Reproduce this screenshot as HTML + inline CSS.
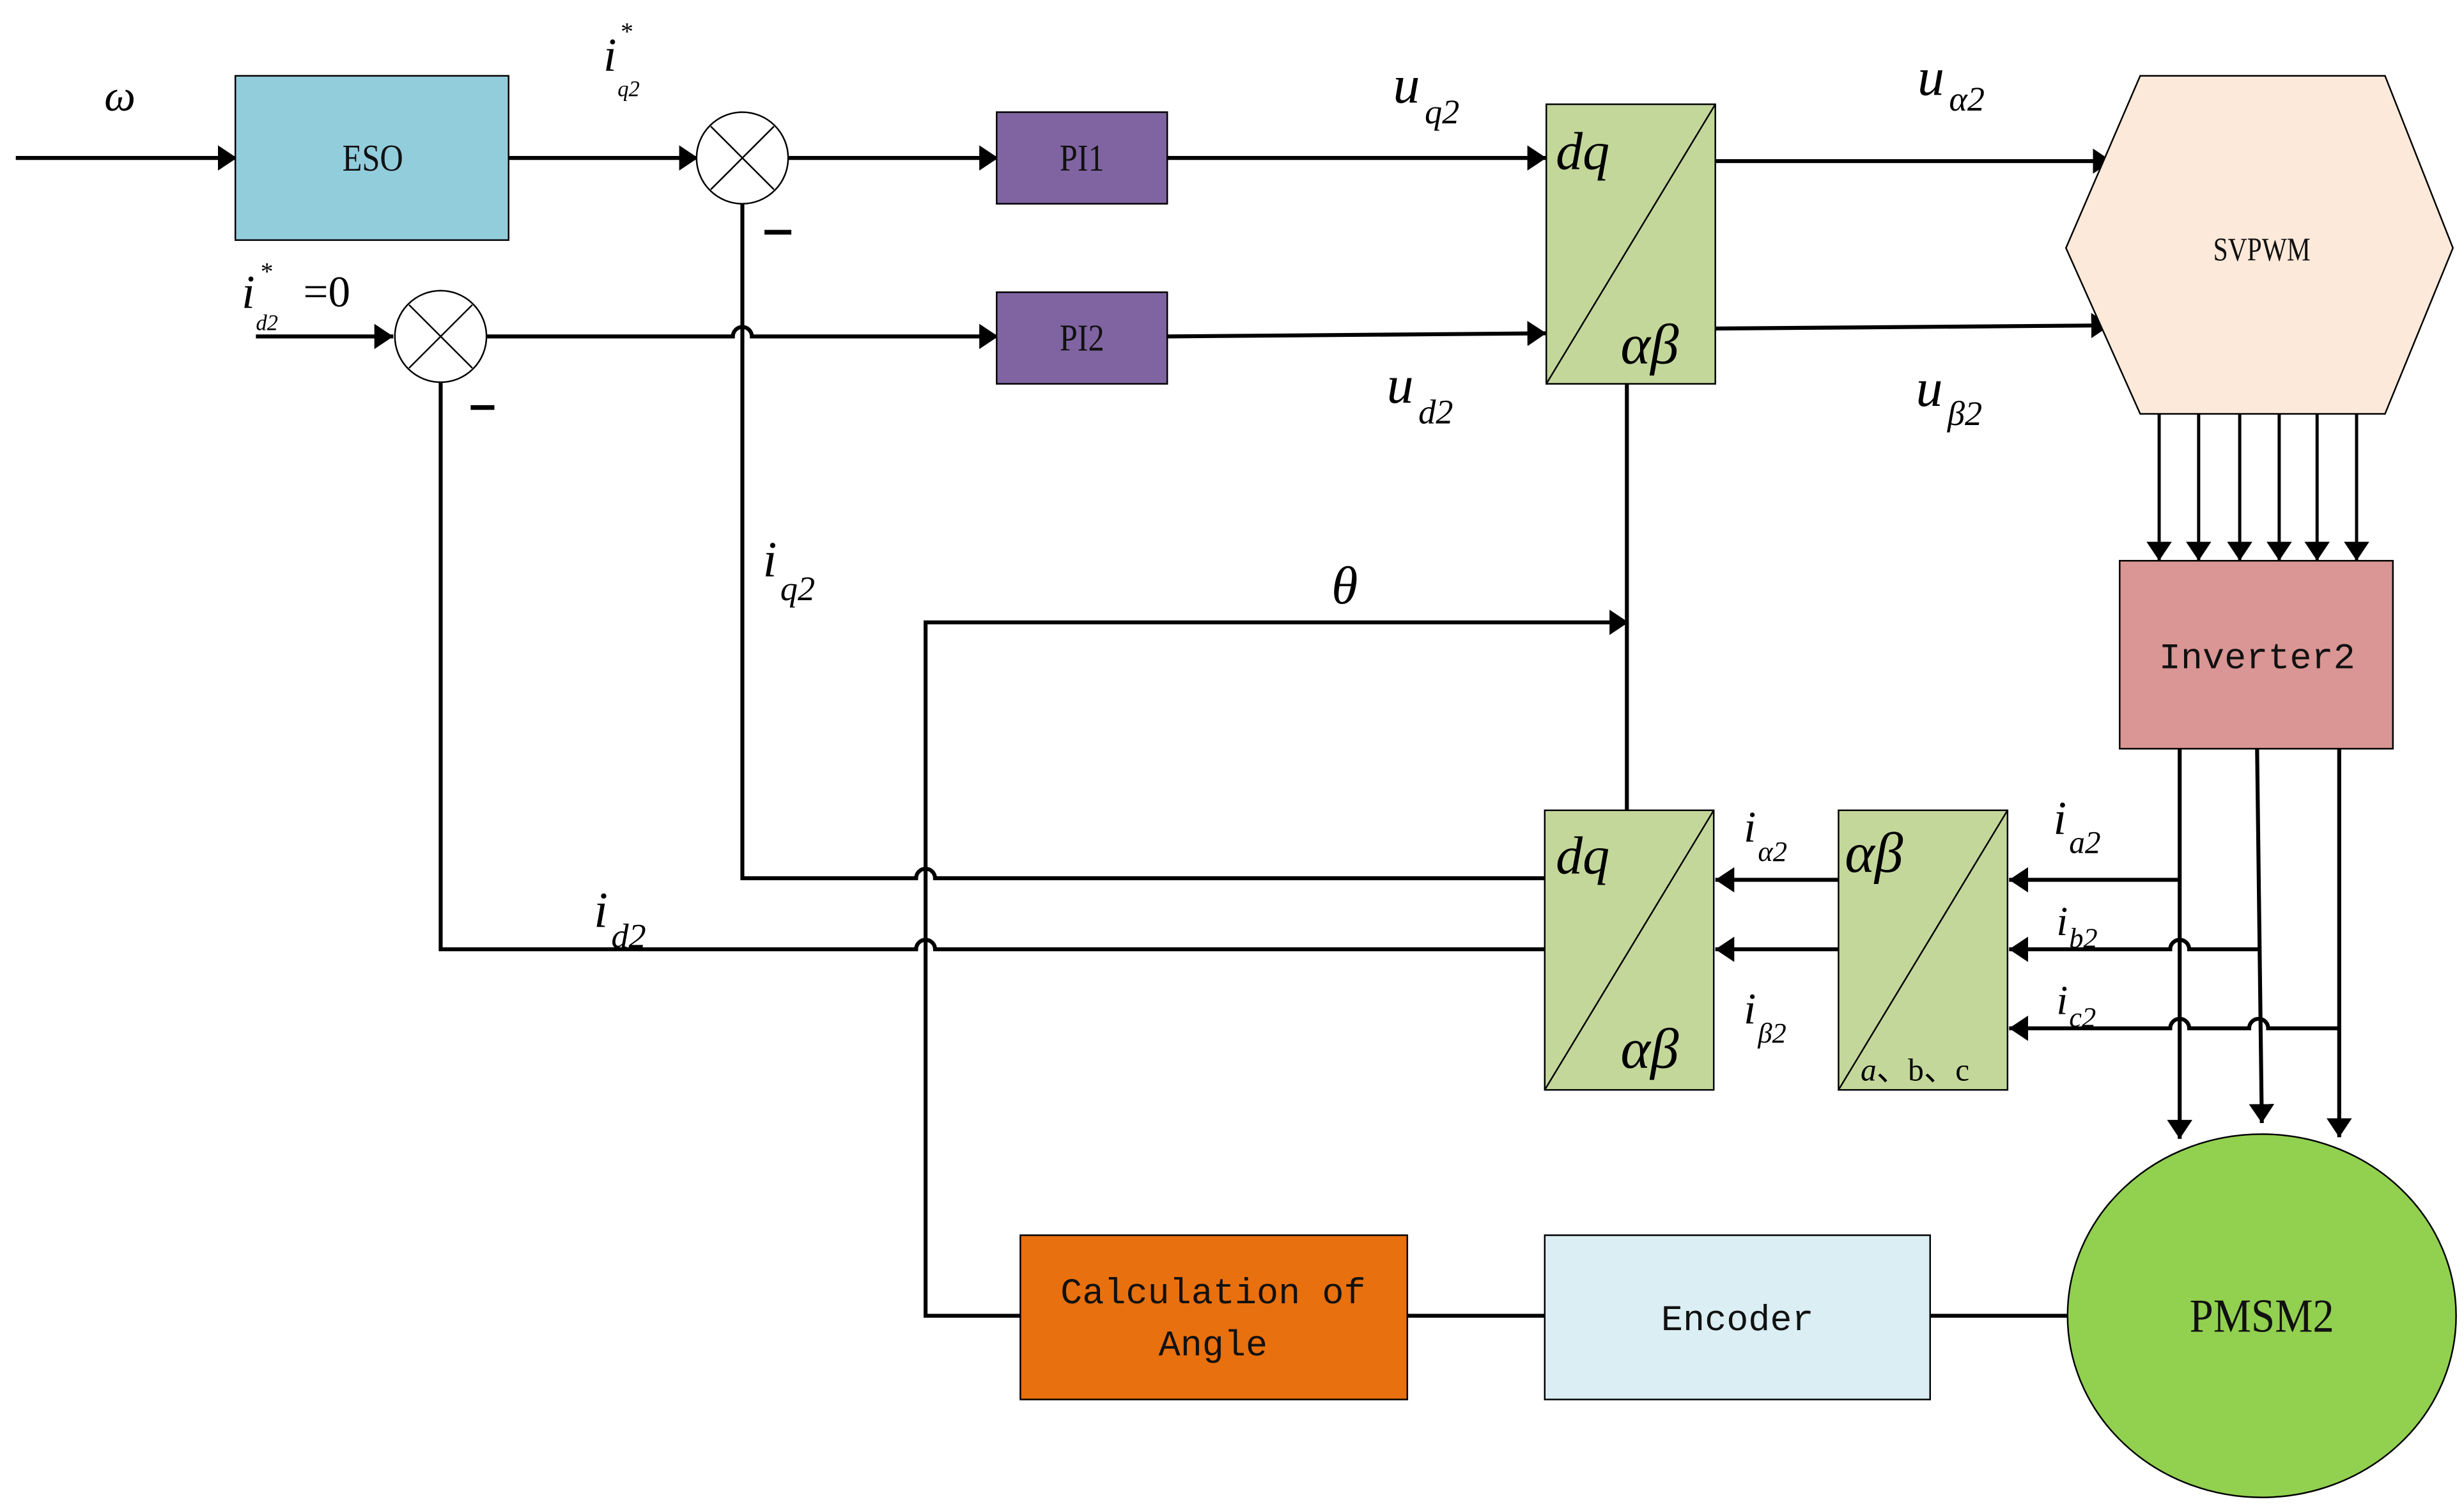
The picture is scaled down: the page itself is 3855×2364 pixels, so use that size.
<!DOCTYPE html>
<html><head><meta charset="utf-8"><style>
html,body{margin:0;padding:0;background:#fff}
svg{display:block}
text{font-family:"Liberation Serif",serif}
text.mono{font-family:"Liberation Mono",monospace}
</style></head><body>
<svg width="3855" height="2364" viewBox="0 0 1560 956.6" preserveAspectRatio="none" xmlns="http://www.w3.org/2000/svg">
<defs>
<marker id="a" markerUnits="userSpaceOnUse" markerWidth="14" markerHeight="16" refX="12" refY="8" orient="auto">
<path d="M0,0 L12,8 L0,16 Z" fill="#000"/>
</marker>
</defs>
<g fill="none" stroke="#000" stroke-width="2.5">
<line x1="10" y1="100" x2="150" y2="100" marker-end="url(#a)"/>
<line x1="322" y1="100" x2="442" y2="100" marker-end="url(#a)"/>
<line x1="499" y1="100" x2="632" y2="100" marker-end="url(#a)"/>
<line x1="739" y1="100" x2="979" y2="100" marker-end="url(#a)"/>
<line x1="1086" y1="102" x2="1337" y2="102" marker-end="url(#a)"/>
<line x1="1086" y1="208" x2="1336" y2="206" marker-end="url(#a)"/>
<line x1="162" y1="213" x2="249" y2="213" marker-end="url(#a)"/>
<path d="M308,213 H464 a6,6 0 0 1 12,0 H632" marker-end="url(#a)"/>
<line x1="739" y1="213" x2="979" y2="211" marker-end="url(#a)"/>
<path d="M470,129 V556 H580 a6,6 0 0 1 12,0 H978"/>
<path d="M279,242 V601 H580 a6,6 0 0 1 12,0 H978"/>
<path d="M646,833 H586 V394 H1031" marker-end="url(#a)"/>
<line x1="1030" y1="243" x2="1030" y2="513"/>
<line x1="1164" y1="557" x2="1086" y2="557" marker-end="url(#a)"/>
<line x1="1164" y1="601" x2="1086" y2="601" marker-end="url(#a)"/>
<path d="M1380,557 H1272" marker-end="url(#a)"/>
<path d="M1430,601 H1386 a6,6 0 0 0 -12,0 H1272" marker-end="url(#a)"/>
<path d="M1480,651 H1436 a6,6 0 0 0 -12,0 H1386 a6,6 0 0 0 -12,0 H1272" marker-end="url(#a)"/>
<line x1="1380" y1="474" x2="1380" y2="721" marker-end="url(#a)"/>
<line x1="1429" y1="474" x2="1432" y2="711" marker-end="url(#a)"/>
<line x1="1481" y1="474" x2="1481" y2="720" marker-end="url(#a)"/>
<line x1="891" y1="833" x2="978" y2="833"/>
<line x1="1222" y1="833" x2="1310" y2="833"/>
</g>
<g stroke="#000" stroke-width="2">
<line x1="1367" y1="262" x2="1367" y2="355" marker-end="url(#a)"/>
<line x1="1392" y1="262" x2="1392" y2="355" marker-end="url(#a)"/>
<line x1="1418" y1="262" x2="1418" y2="355" marker-end="url(#a)"/>
<line x1="1443" y1="262" x2="1443" y2="355" marker-end="url(#a)"/>
<line x1="1467" y1="262" x2="1467" y2="355" marker-end="url(#a)"/>
<line x1="1492" y1="262" x2="1492" y2="355" marker-end="url(#a)"/>
</g>
<g stroke="#000" stroke-width="1">
<rect x="149" y="48" width="173" height="104" fill="#92CDDC"/>
<rect x="631" y="71" width="108" height="58" fill="#8064A2"/>
<rect x="631" y="185" width="108" height="58" fill="#8064A2"/>
<rect x="979" y="66" width="107" height="177" fill="#C4D79B"/>
<line x1="979" y1="243" x2="1086" y2="66"/>
<rect x="978" y="513" width="107" height="177" fill="#C4D79B"/>
<line x1="978" y1="690" x2="1085" y2="513"/>
<rect x="1164" y="513" width="107" height="177" fill="#C4D79B"/>
<line x1="1164" y1="690" x2="1271" y2="513"/>
<polygon points="1355,48 1510,48 1553,157 1510,262 1355,262 1308,157" fill="#FDE9D9"/>
<rect x="1342" y="355" width="173" height="119" fill="#D99694"/>
<rect x="646" y="782" width="245" height="104" fill="#E8700E"/>
<rect x="978" y="782" width="244" height="104" fill="#DAEEF3"/>
<ellipse cx="1432" cy="833" rx="123" ry="115" fill="#92D050"/>
<ellipse cx="470" cy="100" rx="29" ry="29" fill="#fff"/>
<line x1="450" y1="80" x2="490" y2="120"/><line x1="490" y1="80" x2="450" y2="120"/>
<ellipse cx="279" cy="213" rx="29" ry="29" fill="#fff"/>
<line x1="259" y1="193" x2="299" y2="233"/><line x1="299" y1="193" x2="259" y2="233"/>
</g>
<g stroke="#000" stroke-width="3">
<line x1="484" y1="147" x2="501" y2="147"/>
<line x1="298" y1="258" x2="313" y2="258"/>
</g>
<g font-size="24" text-anchor="middle" fill="#111">
<text x="236" y="108" transform="translate(236 0) scale(0.85 1) translate(-236 0)">ESO</text>
<text x="685" y="108" transform="translate(685 0) scale(0.85 1) translate(-685 0)">PI1</text>
<text x="685" y="222" transform="translate(685 0) scale(0.85 1) translate(-685 0)">PI2</text>
<text x="1432" y="165" font-size="21" transform="translate(1432 0) scale(0.8 1) translate(-1432 0)">SVPWM</text>
<text class="mono" x="1429" y="423" font-size="23">Inverter2</text>
<text class="mono" x="768" y="825" font-size="23">Calculation of</text>
<text class="mono" x="768" y="858" font-size="23">Angle</text>
<text class="mono" x="1100" y="842" font-size="23">Encoder</text>
<text x="1432" y="843" font-size="30" transform="translate(1432 0) scale(0.9 1) translate(-1432 0)">PMSM2</text>
</g>
<g fill="#000">
<text x="66" y="70" font-size="28" font-style="italic">ω</text>
<text x="382" y="45" font-size="30" font-style="italic">i</text><text x="393" y="25" font-size="16">*</text><text x="391" y="61" font-size="14" font-style="italic">q2</text>
<text x="153" y="195" font-size="30" font-style="italic">i</text><text x="165" y="177" font-size="16">*</text><text x="162" y="209" font-size="14" font-style="italic">d2</text><text x="192" y="194" font-size="28">=0</text>
<text x="882" y="65" font-size="34" font-style="italic">u</text><text x="902" y="78" font-size="22" font-style="italic">q2</text>
<text x="878" y="255" font-size="34" font-style="italic">u</text><text x="898" y="268" font-size="22" font-style="italic">d2</text>
<text x="1214" y="60" font-size="34" font-style="italic">u</text><text x="1234" y="70" font-size="22" font-style="italic">α2</text>
<text x="1213" y="257" font-size="34" font-style="italic">u</text><text x="1233" y="269" font-size="22" font-style="italic">β2</text>
<text x="985" y="107" font-size="34" font-style="italic">dq</text>
<text x="1026" y="230" font-size="36" font-style="italic">αβ</text>
<text x="985" y="553" font-size="34" font-style="italic">dq</text>
<text x="1026" y="676" font-size="36" font-style="italic">αβ</text>
<text x="1168" y="552" font-size="36" font-style="italic">αβ</text>
<text x="1178" y="684" font-size="20"><tspan font-style="italic">a</tspan>、b、c</text>
<text x="483" y="365" font-size="32" font-style="italic">i</text><text x="494" y="380" font-size="22" font-style="italic">q2</text>
<text x="376" y="587" font-size="32" font-style="italic">i</text><text x="387" y="600" font-size="22" font-style="italic">d2</text>
<text x="843" y="382" font-size="34" font-style="italic">θ</text>
<text x="1104" y="533" font-size="28" font-style="italic">i</text><text x="1113" y="545" font-size="18" font-style="italic">α2</text>
<text x="1104" y="648" font-size="28" font-style="italic">i</text><text x="1113" y="660" font-size="18" font-style="italic">β2</text>
<text x="1300" y="528" font-size="30" font-style="italic">i</text><text x="1310" y="540" font-size="20" font-style="italic">a2</text>
<text x="1302" y="592" font-size="26" font-style="italic">i</text><text x="1310" y="600" font-size="18" font-style="italic">b2</text>
<text x="1302" y="642" font-size="26" font-style="italic">i</text><text x="1310" y="650" font-size="18" font-style="italic">c2</text>
</g>
</svg>
</body></html>
